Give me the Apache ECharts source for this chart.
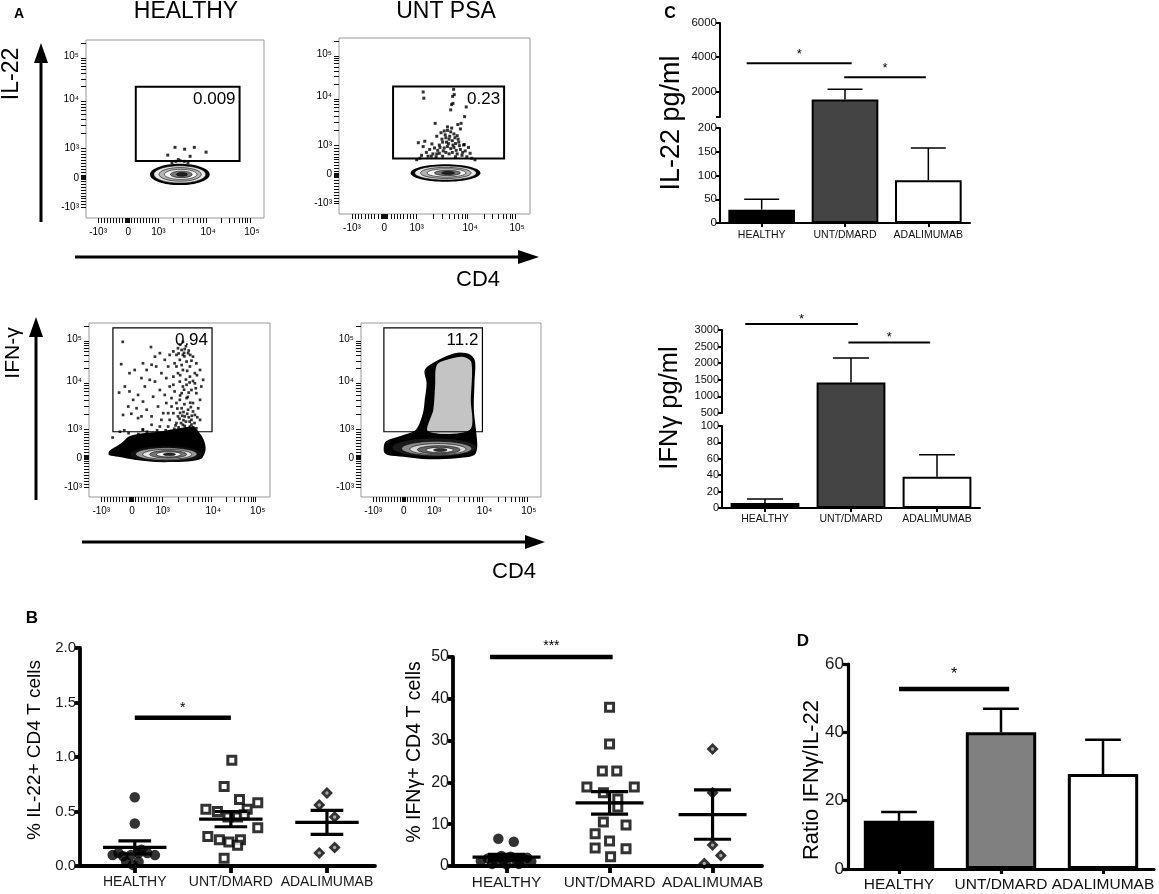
<!DOCTYPE html>
<html>
<head>
<meta charset="utf-8">
<script src="https://cdn.jsdelivr.net/npm/echarts@6/dist/echarts.min.js"></script>
<style>
  html, body { margin: 0; padding: 0; background: #fff; }
  #chart { width: 1159px; height: 894px; }
</style>
</head>
<body>
<div id="chart"></div>
<script>
const FONT = "'Liberation Sans', Arial, Helvetica, sans-serif";
const catNames = ['HEALTHY', 'UNT/DMARD', 'ADALIMUMAB'];

// ---- panel A: flow plots, values in display units of the biexponential axes ----
const flowTickPos = [-1, 0, 1, 2.65, 4.1];
const flowTickText = ['-10³', '0', '10³', '10⁴', '10⁵'];

const il22HealthyGate = [0.25, 0.57, 3.69, 3.07];
const il22HealthyFreq = '0.009';
const il22HealthyRings = [[1.71, 0.12, 0.99, 0.36], [1.71, 0.12, 0.86, 0.29], [1.72, 0.12, 0.7, 0.23], [1.74, 0.12, 0.54, 0.17], [1.76, 0.12, 0.36, 0.11], [1.78, 0.12, 0.18, 0.06]];
const il22HealthyDots = [[1.31, 0.77], [1.55, 1.03], [1.87, 0.97], [2.19, 1.03], [2.05, 0.73], [2.58, 0.87], [1.45, 0.52], [1.58, 0.56], [1.72, 0.58], [1.86, 0.56], [1.98, 0.52], [1.66, 0.62]];

const il22UntGate = [0.27, 0.54, 3.7, 3.0];
const il22UntFreq = '0.23';
const il22UntRings = [[1.89, 0.05, 1.08, 0.3], [1.89, 0.05, 0.95, 0.24], [1.9, 0.05, 0.78, 0.19], [1.92, 0.05, 0.6, 0.14], [1.95, 0.05, 0.4, 0.09], [1.97, 0.05, 0.2, 0.05]];
const il22UntDots = [
  [1.2, 2.81], [1.22, 2.6], [2.14, 2.9], [2.11, 2.66], [2.16, 2.72], [2.08, 2.38], [2.05, 2.2], [2.12, 2.42], [2.53, 2.3], [2.48, 1.97],
  [1.57, 1.74], [2.37, 1.74], [2.27, 1.7], [1.05, 1.08], [1.25, 1.13], [1.47, 1.04], [1.62, 1.3], [1.75, 1.42], [1.85, 1.48], [1.95, 1.5],
  [2.05, 1.45], [2.15, 1.38], [2.25, 1.32], [1.9, 1.25], [2.0, 1.2], [2.1, 1.15], [1.8, 1.1], [1.7, 1.0], [2.2, 1.05], [2.3, 1.1],
  [2.45, 1.0], [2.6, 0.92], [1.55, 0.9], [1.4, 0.85], [1.65, 0.82], [1.85, 0.9], [1.95, 0.95], [2.05, 0.88], [2.15, 0.92], [2.35, 0.85],
  [2.5, 0.8], [1.3, 0.75], [1.5, 0.7], [1.7, 0.72], [1.9, 0.75], [2.0, 0.7], [2.1, 0.75], [2.25, 0.7], [2.4, 0.65], [1.15, 0.65],
  [1.35, 0.62], [1.6, 0.6], [1.8, 0.62], [2.2, 0.6], [2.55, 0.6], [1.95, 1.62], [2.08, 1.58], [1.88, 1.35], [2.18, 1.25], [1.78, 1.2],
  [2.35, 1.55], [2.28, 1.2], [1.98, 1.05], [2.02, 1.3], [1.92, 1.1], [1.72, 0.92], [2.12, 1.0], [1.2, 0.95], [2.65, 0.72], [2.7, 0.55],
  [1.1, 0.55], [1.0, 0.5], [2.8, 0.5], [2.47, 1.02], [1.82, 0.8], [2.22, 0.82], [1.62, 0.7], [2.32, 0.98], [1.45, 0.62], [2.42, 0.75]
];

const ifngHealthyGate = [-0.62, 0.9, 2.61, 4.48];
const ifngHealthyFreq = '0.94';
const ifngHealthyBlob = [[-0.75, 0.22], [-0.69, 0.28], [-0.34, 0.51], [-0.10, 0.74], [0.36, 0.85], [0.94, 0.91], [1.53, 1.02], [1.99, 1.08], [2.17, 0.91], [2.34, 0.62], [2.40, 0.28], [2.23, -0.05], [1.06, -0.15], [0.13, -0.07], [-0.45, 0.04], [-0.75, 0.10]];
const ifngHealthyRings = [[1.12, 0.13, 1.17, 0.27], [1.12, 0.13, 1.0, 0.22], [1.15, 0.12, 0.8, 0.17], [1.18, 0.12, 0.6, 0.13], [1.2, 0.12, 0.4, 0.09], [1.22, 0.12, 0.2, 0.05]];
const ifngHealthyDots = [
  [-0.30, 4.0], [0.62, 3.82], [-0.35, 3.23], [-0.08, 2.92], [0.09, 3.03], [-0.42, 2.25], [-0.23, 2.46], [-0.08, 2.29], [0.04, 2.0], [-0.12, 1.77],
  [0.15, 1.71], [-0.29, 1.48], [-0.02, 1.52], [0.31, 1.43], [0.20, 1.37], [0.48, 1.66], [0.36, 1.94], [0.20, 2.17], [0.42, 2.46], [0.58, 2.69],
  [0.31, 2.75], [0.48, 3.03], [0.64, 3.21], [0.36, 3.26], [0.75, 3.49], [0.91, 3.61], [0.79, 3.15], [0.96, 2.92], [0.75, 2.63], [0.91, 2.34],
  [0.69, 2.11], [0.85, 1.77], [0.64, 1.43], [1.02, 1.54], [0.96, 1.31], [1.12, 1.89], [1.07, 2.17], [1.23, 2.46], [1.12, 2.75], [1.18, 3.15],
  [1.07, 3.38], [1.23, 3.55], [1.35, 3.67], [1.50, 3.78], [1.62, 3.72], [1.72, 3.75], [1.45, 3.55], [1.66, 3.55], [1.83, 3.61], [1.56, 3.38],
  [1.78, 3.32], [1.39, 3.26], [1.99, 3.49], [2.10, 3.26], [2.22, 3.03], [2.05, 2.92], [1.89, 2.80], [1.66, 3.03], [1.50, 2.92], [1.35, 2.80],
  [1.56, 2.63], [1.78, 2.52], [1.94, 2.34], [2.10, 2.23], [2.22, 2.0], [1.99, 1.89], [1.78, 2.06], [1.62, 2.23], [1.39, 2.29], [1.29, 2.06],
  [1.45, 1.89], [1.62, 1.71], [1.83, 1.66], [2.05, 1.48], [2.22, 1.31], [1.94, 1.31], [1.72, 1.43], [1.50, 1.43], [1.35, 1.54], [1.23, 1.31],
  [1.45, 1.20], [1.66, 1.14], [1.89, 1.08], [2.10, 1.02], [1.18, 1.08], [0.91, 1.08], [0.64, 1.14], [0.36, 0.97], [2.26, 2.46], [2.32, 2.69],
  [2.05, 2.57], [2.16, 1.71], [1.29, 1.77], [1.18, 1.54], [1.56, 2.0], [1.66, 2.46], [1.35, 2.52], [1.45, 3.15], [1.89, 3.15],
  [1.57, 1.55], [1.76, 1.25], [1.85, 1.4], [1.52, 1.05], [1.68, 1.3], [1.94, 1.15], [1.38, 1.0], [1.80, 0.95], [1.62, 0.98], [2.04, 1.2],
  [2.13, 1.4], [1.99, 1.6], [1.48, 1.7], [1.71, 1.85], [1.90, 1.9], [1.57, 2.15], [1.85, 2.25], [2.08, 2.4], [1.76, 2.7], [1.57, 2.85],
  [1.99, 2.65], [1.80, 3.0], [1.62, 3.2], [1.94, 3.35], [1.71, 3.5], [1.52, 3.6], [1.85, 3.7], [1.76, 3.85], [1.57, 3.9], [1.66, 4.0],
  [-0.39, 0.9], [-0.11, 0.85], [0.21, 0.82], [0.49, 0.9], [0.82, 0.95], [1.10, 0.95], [1.43, 0.92], [1.76, 0.9], [2.04, 0.88], [-0.63, 0.7],
  [0.35, 0.98], [-0.25, 0.95], [1.60, 1.2], [1.72, 1.1], [1.88, 1.25], [1.55, 1.35], [1.95, 1.45], [1.68, 1.58], [1.80, 1.52], [2.00, 1.05],
  [1.42, 1.12], [1.74, 1.0], [1.64, 1.45], [1.92, 1.75], [1.82, 2.1], [1.70, 2.35], [1.88, 2.6], [2.12, 2.85], [1.70, 3.62], [1.90, 3.55]
];

const ifngUntGate = [-0.65, 0.9, 2.58, 4.48];
const ifngUntFreq = '11.2';
const ifngUntOuter = [[-0.65, 0.22], [-0.59, 0.56], [-0.01, 0.79], [0.40, 0.97], [0.63, 1.54], [0.69, 2.0], [0.75, 2.58], [0.69, 3.03], [1.04, 3.32], [1.50, 3.55], [1.85, 3.63], [2.20, 3.55], [2.34, 3.32], [2.32, 2.58], [2.30, 1.66], [2.38, 0.85], [2.41, 0.39], [2.32, 0.10], [1.74, -0.01], [0.80, -0.05], [-0.01, 0.04], [-0.53, 0.10]];
const ifngUntInner = [[1.09, 3.21], [1.50, 3.41], [1.97, 3.48], [2.22, 3.29], [2.20, 2.0], [2.17, 0.97], [0.80, 0.92], [0.97, 1.66], [1.03, 2.47]];
const ifngUntRings = [[1.0, 0.36, 1.37, 0.31], [1.08, 0.32, 1.15, 0.25], [1.12, 0.3, 0.92, 0.19], [1.15, 0.28, 0.7, 0.14], [1.18, 0.27, 0.45, 0.09], [1.2, 0.27, 0.22, 0.05]];

// ---- panel B: [offset from category, value] ----
const il22HealthyPct = [[0, 0.63], [0, 0.39], [-0.23, 0.10], [-0.12, 0.09], [-0.04, 0.10], [0.04, 0.12], [0.13, 0.12], [0.21, 0.10], [-0.09, 0.04], [0.04, 0.04], [-0.02, 0.01], [0.07, 0.15], [-0.17, 0.12]];
const il22UntPct = [[0.01, 0.97], [-0.07, 0.73], [0.09, 0.61], [0.28, 0.58], [-0.26, 0.52], [-0.14, 0.50], [0.17, 0.52], [-0.03, 0.45], [0.07, 0.45], [0.14, 0.47], [0.28, 0.35], [-0.24, 0.27], [-0.12, 0.24], [-0.02, 0.22], [0.10, 0.24], [0.07, 0.19], [-0.07, 0.07]];
const il22AdaPct = [[0, 0.67], [-0.08, 0.56], [0.08, 0.45], [-0.08, 0.12], [0.08, 0.17]];
const il22PctMean = [0.17, 0.43, 0.40];
const il22PctSem = [0.06, 0.07, 0.11];

const ifngHealthyPct = [[-0.08, 6.5], [0.07, 5.8], [-0.25, 1.2], [-0.18, 1.8], [-0.1, 0.9], [-0.03, 1.5], [0.04, 2.2], [0.1, 1.0], [0.17, 1.6], [0.24, 1.1], [-0.14, 0.5], [0.0, 0.4], [0.12, 0.5], [0.2, 2.0], [-0.05, 2.4]];
const ifngUntPct = [[0, 38], [0, 29.2], [-0.07, 22.7], [0.07, 22.7], [-0.22, 18.9], [0.24, 18.9], [-0.06, 17.5], [0.08, 16], [0.08, 14.1], [-0.06, 10.5], [0.16, 9.8], [-0.14, 7.7], [0, 6], [-0.14, 4.3], [0.16, 4.1], [0.01, 2.2]];
const ifngAdaPct = [[0, 28], [0, 17.5], [0, 5], [0.08, 2.5], [-0.08, 0.6]];
const ifngPctMean = [2.1, 15.1, 12.3];
const ifngPctSem = [0.7, 2.7, 5.9];

// ---- panel C: cytokines pg/ml ----
const il22Mean = [28, 1530, 90];
const il22Sem = [22, 590, 68];
const ifngMean = [6, 1420, 38];
const ifngSem = [5, 740, 27];

// ---- panel D ----
const ratioMean = [14.1, 40.0, 27.8];
const ratioSem = [2.6, 6.9, 10.0];

// significance bars: [from, to, height]
const sigB1 = [[0, 1.0, 1.36]];
const sigB2 = [[-0.16, 1.03, 50]];
const sigC1 = [[-0.18, 1.08, 3650], [0.99, 1.97, 2820]];
const sigC2 = [[-0.23, 1.08, 3180], [0.97, 1.92, 2620]];
const sigD = [[0, 1.08, 52.7]];
const starsB1 = ['*'];
const starsB2 = ['***'];
const starsC = ['*', '*'];
const starsD = ['*'];

// broken y axis of panel C: px above the x axis
function brokenY(lowMax, lowPx, gap, hiMin, hiMax, hiPx) {
  return v => v <= lowMax ? v * lowPx / lowMax : lowPx + gap + (v - hiMin) * hiPx / (hiMax - hiMin);
}
const mapC1 = brokenY(200, 95, 11, 500, 6000, 94);
const mapC2 = brokenY(100, 82, 13, 500, 3000, 83);
const same = v => v;

function flowTicks(max) {
  const v = [];
  for (let i = -10; i <= 10; i++) v.push(i / 10);
  [-0.05, -0.03, 0.03, 0.05].forEach(t => v.push(t));
  const dec = [[1, 1.65], [2.65, 1.45], [4.1, 1.45]];
  dec.forEach(([a, step]) => {
    for (let k = 2; k <= 9; k++) {
      const t = a + step * Math.log10(k);
      if (t < max - 0.05) v.push(t);
    }
  });
  return v;
}

function flowAxis(g, isX) {
  const max = isX ? 4.5 : 4.65;
  return {
    type: 'value', gridIndex: g, min: isX ? -1.4 : -1.35, max: max,
    axisLine: { show: false, onZero: false },
    splitLine: { show: false },
    axisTick: { show: true, length: 5, lineStyle: { color: '#111', width: 1 }, customValues: flowTicks(max) },
    axisLabel: {
      customValues: flowTickPos, fontSize: 10, color: '#000', margin: isX ? 9 : 7,
      formatter: v => {
        const i = flowTickPos.findIndex(p => Math.abs(p - v) < 1e-6);
        return i < 0 ? '' : flowTickText[i];
      }
    }
  };
}

function ringSeries(g, rings, colors) {
  return {
    type: 'custom', xAxisIndex: g, yAxisIndex: g, silent: true, z: 2,
    data: rings.map(r => [r[0], r[1]]),
    renderItem(params, api) {
      const r = rings[params.dataIndex];
      const c = api.coord([r[0], r[1]]);
      const s = api.size([r[2], r[3]]);
      return {
        type: 'ellipse',
        shape: { cx: c[0], cy: c[1], rx: s[0], ry: s[1] },
        style: { fill: colors[params.dataIndex], stroke: params.dataIndex > 0 ? '#000' : null, lineWidth: 0.6 }
      };
    }
  };
}

function polySeries(g, pts, fill, z) {
  return {
    type: 'custom', xAxisIndex: g, yAxisIndex: g, silent: true, z: z,
    data: [pts[0]],
    renderItem(params, api) {
      return { type: 'polygon', shape: { points: pts.map(p => api.coord(p)), smooth: 0.3 }, style: { fill: fill } };
    }
  };
}

function gateSeries(g, gate, freq, lw) {
  return {
    type: 'custom', xAxisIndex: g, yAxisIndex: g, silent: true, z: 6,
    data: [[gate[0], gate[1]]],
    renderItem(params, api) {
      const a = api.coord([gate[0], gate[3]]);
      const b = api.coord([gate[2], gate[1]]);
      return {
        type: 'group', children: [
          { type: 'rect', shape: { x: a[0], y: a[1], width: b[0] - a[0], height: b[1] - a[1] }, style: { fill: 'none', stroke: '#000', lineWidth: lw } },
          { type: 'text', x: b[0] - 4, y: a[1] + 4, style: { text: freq, fontSize: 17, fontFamily: FONT, fill: '#000', align: 'right', verticalAlign: 'top', textAlign: 'right', textVerticalAlign: 'top' } }
        ]
      };
    }
  };
}

function dotSeries(g, dots, size) {
  return { type: 'scatter', xAxisIndex: g, yAxisIndex: g, data: dots, symbol: 'rect', symbolSize: size, itemStyle: { color: '#000' }, silent: true, z: 3 };
}

function barSeries(g, means, map, fills, width, border) {
  return {
    type: 'bar', xAxisIndex: g, yAxisIndex: g, barWidth: width, silent: true, z: 2,
    data: means.map((m, i) => ({ value: map(m), itemStyle: { color: fills[i], borderColor: '#000', borderWidth: border } }))
  };
}

function errSeries(g, means, sems, map, capFrac, width) {
  return {
    type: 'custom', xAxisIndex: g, yAxisIndex: g, silent: true, z: 4,
    data: means.map((m, i) => [i, map(m)]),
    renderItem(params, api) {
      const i = params.dataIndex;
      const base = api.coord([i, map(means[i])]);
      const top = api.coord([i, map(means[i] + sems[i])]);
      const hw = api.size([1, 0])[0] * capFrac / 2;
      const st = { stroke: '#000', lineWidth: width };
      return {
        type: 'group', children: [
          { type: 'line', shape: { x1: base[0], y1: base[1], x2: top[0], y2: top[1] }, style: st },
          { type: 'line', shape: { x1: top[0] - hw, y1: top[1], x2: top[0] + hw, y2: top[1] }, style: st }
        ]
      };
    }
  };
}

function sigSeries(g, lines, stars, opt) {
  return {
    type: 'custom', xAxisIndex: g, yAxisIndex: g, silent: true, z: 5,
    data: lines.map(() => [0, 0]),
    renderItem(params, api) {
      const l = lines[params.dataIndex];
      const y = opt.map(l[2]);
      let a, b;
      if (opt.category) {
        const p0 = api.coord([0, y]);
        const w = api.size([1, 0])[0];
        a = [p0[0] + l[0] * w, p0[1]];
        b = [p0[0] + l[1] * w, p0[1]];
      } else {
        a = api.coord([l[0], y]);
        b = api.coord([l[1], y]);
      }
      return {
        type: 'group', children: [
          { type: 'line', shape: { x1: a[0], y1: a[1], x2: b[0], y2: b[1] }, style: { stroke: '#000', lineWidth: opt.width } },
          { type: 'text', x: (a[0] + b[0]) / 2, y: a[1] - opt.gap, style: { text: stars[params.dataIndex], fontSize: opt.font, fontFamily: FONT, fill: '#000', align: 'center', verticalAlign: 'middle', textAlign: 'center', textVerticalAlign: 'middle' } }
        ]
      };
    }
  };
}

function meanSemSeries(g, means, sems, longHalf, shortHalf) {
  return {
    type: 'custom', xAxisIndex: g, yAxisIndex: g, silent: true, z: 6,
    data: means.map((m, i) => [i, m]),
    renderItem(params, api) {
      const i = params.dataIndex, m = means[i], s = sems[i];
      const pm = api.coord([i, m]), pu = api.coord([i, m + s]), pl = api.coord([i, Math.max(0, m - s)]);
      const wl = api.size([longHalf, 0])[0], ws = api.size([shortHalf, 0])[0];
      const st = { stroke: '#000', lineWidth: 3.2 };
      return {
        type: 'group', children: [
          { type: 'line', shape: { x1: pm[0] - wl, y1: pm[1], x2: pm[0] + wl, y2: pm[1] }, style: st },
          { type: 'line', shape: { x1: pu[0] - ws, y1: pu[1], x2: pu[0] + ws, y2: pu[1] }, style: st },
          { type: 'line', shape: { x1: pl[0] - ws, y1: pl[1], x2: pl[0] + ws, y2: pl[1] }, style: st },
          { type: 'line', shape: { x1: pu[0], y1: pu[1], x2: pl[0], y2: pl[1] }, style: st }
        ]
      };
    }
  };
}

function pctSeries(g, pts, idx, kind) {
  const data = pts.map(p => [idx + p[0], p[1]]);
  if (kind === 'circle') {
    return [{ type: 'scatter', xAxisIndex: g, yAxisIndex: g, data, symbol: 'circle', symbolSize: 10.5, itemStyle: { color: '#000' }, silent: true, z: 3 }];
  }
  if (kind === 'square') {
    return [{ type: 'scatter', xAxisIndex: g, yAxisIndex: g, data, symbol: 'rect', symbolSize: 8, itemStyle: { color: '#fff', borderColor: '#000', borderWidth: 3 }, silent: true, z: 3 }];
  }
  return [
    { type: 'scatter', xAxisIndex: g, yAxisIndex: g, data, symbol: 'diamond', symbolSize: 12, itemStyle: { color: '#000' }, silent: true, z: 3 },
    { type: 'scatter', xAxisIndex: g, yAxisIndex: g, data, symbol: 'circle', symbolSize: 3.4, itemStyle: { color: '#c8c8c8' }, silent: true, z: 4 }
  ];
}

// ---- axes helpers ----
const plain = v => String(v);
function hiddenCat(g) { return { type: 'category', gridIndex: g, data: catNames, show: false }; }
function hiddenVal(g, max) { return { type: 'value', gridIndex: g, min: 0, max: max, show: false, splitLine: { show: false } }; }
function catAxis(g, lw, tickLen, font, margin) {
  return {
    type: 'category', gridIndex: g, data: catNames,
    axisLine: { show: true, onZero: false, lineStyle: { color: '#000', width: lw } },
    axisTick: { show: true, alignWithLabel: true, length: tickLen, lineStyle: { color: '#000', width: lw } },
    axisLabel: { interval: 0, fontSize: font, color: '#111', margin: margin },
    splitLine: { show: false }
  };
}
function valAxis(g, min, max, interval, lw, font, extra) {
  return Object.assign({
    type: 'value', gridIndex: g, min: min, max: max, interval: interval,
    axisLine: { show: true, onZero: false, lineStyle: { color: '#000', width: lw } },
    axisTick: { show: true, length: 4, lineStyle: { color: '#000', width: lw } },
    axisLabel: { fontSize: font, color: '#111', margin: 3, formatter: plain },
    splitLine: { show: false }
  }, extra || {});
}
function pctX(g, min, max, font) {
  return {
    type: 'value', gridIndex: g, min: min, max: max,
    axisLine: { show: true, onZero: false, lineStyle: { color: '#000', width: 3.8 } },
    axisTick: { show: true, length: 7, customValues: [0, 1, 2], lineStyle: { color: '#000', width: 3.8 } },
    axisLabel: { customValues: [0, 1, 2], formatter: v => catNames[Math.round(v)], fontSize: font, color: '#1a1a1a', margin: 9 },
    splitLine: { show: false }
  };
}

const grids = [
  { left: 86, top: 40, width: 178, height: 178 },
  { left: 339, top: 38, width: 191, height: 176 },
  { left: 89, top: 323, width: 181, height: 174 },
  { left: 361, top: 323, width: 180, height: 174 },
  { left: 720, top: 0, width: 250, height: 223 },
  { left: 720, top: 23, width: 250, height: 94 },
  { left: 720, top: 128, width: 250, height: 95 },
  { left: 722, top: 300, width: 258, height: 208 },
  { left: 722, top: 330, width: 258, height: 83 },
  { left: 722, top: 426, width: 258, height: 82 },
  { left: 80, top: 648, width: 295, height: 218 },
  { left: 453, top: 657, width: 309, height: 209 },
  { left: 848, top: 664, width: 306, height: 205 }
].map((g, i) => Object.assign(g, i < 4 ? { show: true, borderColor: '#999', borderWidth: 1 } : {}));

const xAxes = [
  flowAxis(0, true), flowAxis(1, true), flowAxis(2, true), flowAxis(3, true),
  hiddenCat(4), hiddenCat(5), catAxis(6, 2, 4, 10.5, 7),
  hiddenCat(7), hiddenCat(8), catAxis(9, 2, 4, 10.5, 6),
  pctX(10, -0.57, 2.5, 14), pctX(11, -0.52, 2.48, 15.3),
  catAxis(12, 3.2, 5, 15.5, 8)
];

const yAxes = [
  flowAxis(0, false), flowAxis(1, false), flowAxis(2, false), flowAxis(3, false),
  hiddenVal(4, 223),
  valAxis(5, 500, 6000, null, 2, 11.5, {
    axisTick: { show: true, length: 4, customValues: [500, 2000, 4000, 6000], lineStyle: { color: '#000', width: 2 } },
    axisLabel: { customValues: [2000, 4000, 6000], fontSize: 11.5, color: '#111', margin: 3, formatter: plain }
  }),
  valAxis(6, 0, 200, 50, 2, 11.5),
  hiddenVal(7, 208),
  valAxis(8, 500, 3000, 500, 2, 11),
  valAxis(9, 0, 100, 20, 2, 11),
  valAxis(10, 0, 2, 0.5, 3.8, 15, {
    axisTick: { show: true, length: 5, lineStyle: { color: '#000', width: 3.8 } },
    axisLabel: { fontSize: 15, color: '#1a1a1a', margin: 4, formatter: v => v.toFixed(1) }
  }),
  valAxis(11, 0, 50, 10, 3.8, 16, {
    axisTick: { show: true, length: 5, lineStyle: { color: '#000', width: 3.8 } },
    axisLabel: { fontSize: 16, color: '#1a1a1a', margin: 4, formatter: plain }
  }),
  valAxis(12, 0, 60, 20, 3.2, 17, {
    axisTick: { show: true, length: 5, lineStyle: { color: '#000', width: 3.2 } },
    axisLabel: { fontSize: 17, color: '#1a1a1a', margin: 4, formatter: plain }
  })
];

const ringShades = ['#000', '#e8e8e8', '#b5b5b5', '#f5f5f5', '#777', '#222'];
const ringShadesIfn = ['#111', '#999', '#e5e5e5', '#777', '#f5f5f5', '#222'];

const series = [].concat(
  // A
  ringSeries(0, il22HealthyRings, ringShades),
  dotSeries(0, il22HealthyDots, 3),
  gateSeries(0, il22HealthyGate, il22HealthyFreq, 2),
  ringSeries(1, il22UntRings, ringShades),
  dotSeries(1, il22UntDots, 3),
  gateSeries(1, il22UntGate, il22UntFreq, 2),
  polySeries(2, ifngHealthyBlob, '#000', 1),
  ringSeries(2, ifngHealthyRings, ringShadesIfn),
  dotSeries(2, ifngHealthyDots, 2.7),
  gateSeries(2, ifngHealthyGate, ifngHealthyFreq, 1.2),
  polySeries(3, ifngUntOuter, '#000', 1),
  polySeries(3, ifngUntInner, '#c4c4c4', 1),
  ringSeries(3, ifngUntRings, ['#1a1a1a', '#8a8a8a', '#d8d8d8', '#666', '#eee', '#333']),
  gateSeries(3, ifngUntGate, ifngUntFreq, 1.2),
  // C
  barSeries(4, il22Mean, mapC1, ['#000', '#444', '#fff'], '80%', 2),
  errSeries(4, il22Mean, il22Sem, mapC1, 0.42, 1.5),
  sigSeries(4, sigC1, starsC, { category: true, map: mapC1, width: 2, gap: 9, font: 13 }),
  barSeries(7, ifngMean, mapC2, ['#000', '#444', '#fff'], '80%', 2),
  errSeries(7, ifngMean, ifngSem, mapC2, 0.42, 1.5),
  sigSeries(7, sigC2, starsC, { category: true, map: mapC2, width: 2, gap: 5, font: 13 }),
  // B
  pctSeries(10, il22HealthyPct, 0, 'circle'),
  pctSeries(10, il22UntPct, 1, 'square'),
  pctSeries(10, il22AdaPct, 2, 'diamond'),
  meanSemSeries(10, il22PctMean, il22PctSem, 0.33, 0.17),
  sigSeries(10, sigB1, starsB1, { category: false, map: same, width: 4.5, gap: 10, font: 14 }),
  pctSeries(11, ifngHealthyPct, 0, 'circle'),
  pctSeries(11, ifngUntPct, 1, 'square'),
  pctSeries(11, ifngAdaPct, 2, 'diamond'),
  meanSemSeries(11, ifngPctMean, ifngPctSem, 0.33, 0.18),
  sigSeries(11, sigB2, starsB2, { category: false, map: same, width: 4.5, gap: 11, font: 14 }),
  // D
  barSeries(12, ratioMean, same, ['#000', '#808080', '#fff'], '69%', 3),
  errSeries(12, ratioMean, ratioSem, same, 0.35, 2.5),
  sigSeries(12, sigD, starsD, { category: true, map: same, width: 4.5, gap: 14, font: 16 })
);

function txt(x, y, text, size, rot, bold) {
  return {
    type: 'text', x: x, y: y, rotation: rot ? Math.PI / 2 : 0,
    style: { text: text, fontSize: size, fontFamily: FONT, fontWeight: bold ? 'bold' : 'normal', fill: '#000', align: 'center', verticalAlign: 'middle', textAlign: 'center', textVerticalAlign: 'middle' }
  };
}
function arrowLine(x1, y1, x2, y2) {
  return { type: 'line', shape: { x1, y1, x2, y2 }, style: { stroke: '#000', lineWidth: 3 } };
}
function arrowHead(points) {
  return { type: 'polygon', shape: { points }, style: { fill: '#000' } };
}

const graphics = [
  txt(19, 14, 'A', 14, false, true),
  txt(186, 12, 'HEALTHY', 23),
  txt(446, 12, 'UNT PSA', 23),
  txt(12, 74, 'IL-22', 23, true),
  txt(478, 280, 'CD4', 22),
  txt(13, 353, 'IFN-γ', 21, true),
  txt(514, 572, 'CD4', 22),
  arrowLine(41, 222, 41, 60), arrowHead([[41, 43], [34, 63], [48, 63]]),
  arrowLine(75, 257, 522, 257), arrowHead([[539, 257], [518, 250], [518, 264]]),
  arrowLine(36, 500, 36, 333), arrowHead([[36, 317], [29, 337], [43, 337]]),
  arrowLine(82, 542, 528, 542), arrowHead([[545, 542], [525, 535], [525, 549]]),
  txt(32, 618, 'B', 17, false, true),
  txt(670, 14, 'C', 16, false, true),
  txt(803, 641, 'D', 17, false, true),
  txt(672, 123, 'IL-22 pg/ml', 27, true),
  txt(670, 408, 'IFNγ pg/ml', 25.5, true),
  txt(35, 750, '% IL-22+ CD4 T cells', 19, true),
  txt(415, 752, '% IFNγ+ CD4 T cells', 19.5, true),
  txt(812, 780, 'Ratio IFNγ/IL-22', 22, true)
];

const chart = echarts.init(document.getElementById('chart'));
chart.setOption({
  backgroundColor: '#fff',
  animation: false,
  textStyle: { fontFamily: FONT },
  grid: grids,
  xAxis: xAxes,
  yAxis: yAxes,
  series: series,
  graphic: { elements: graphics }
});
</script>
</body>
</html>
